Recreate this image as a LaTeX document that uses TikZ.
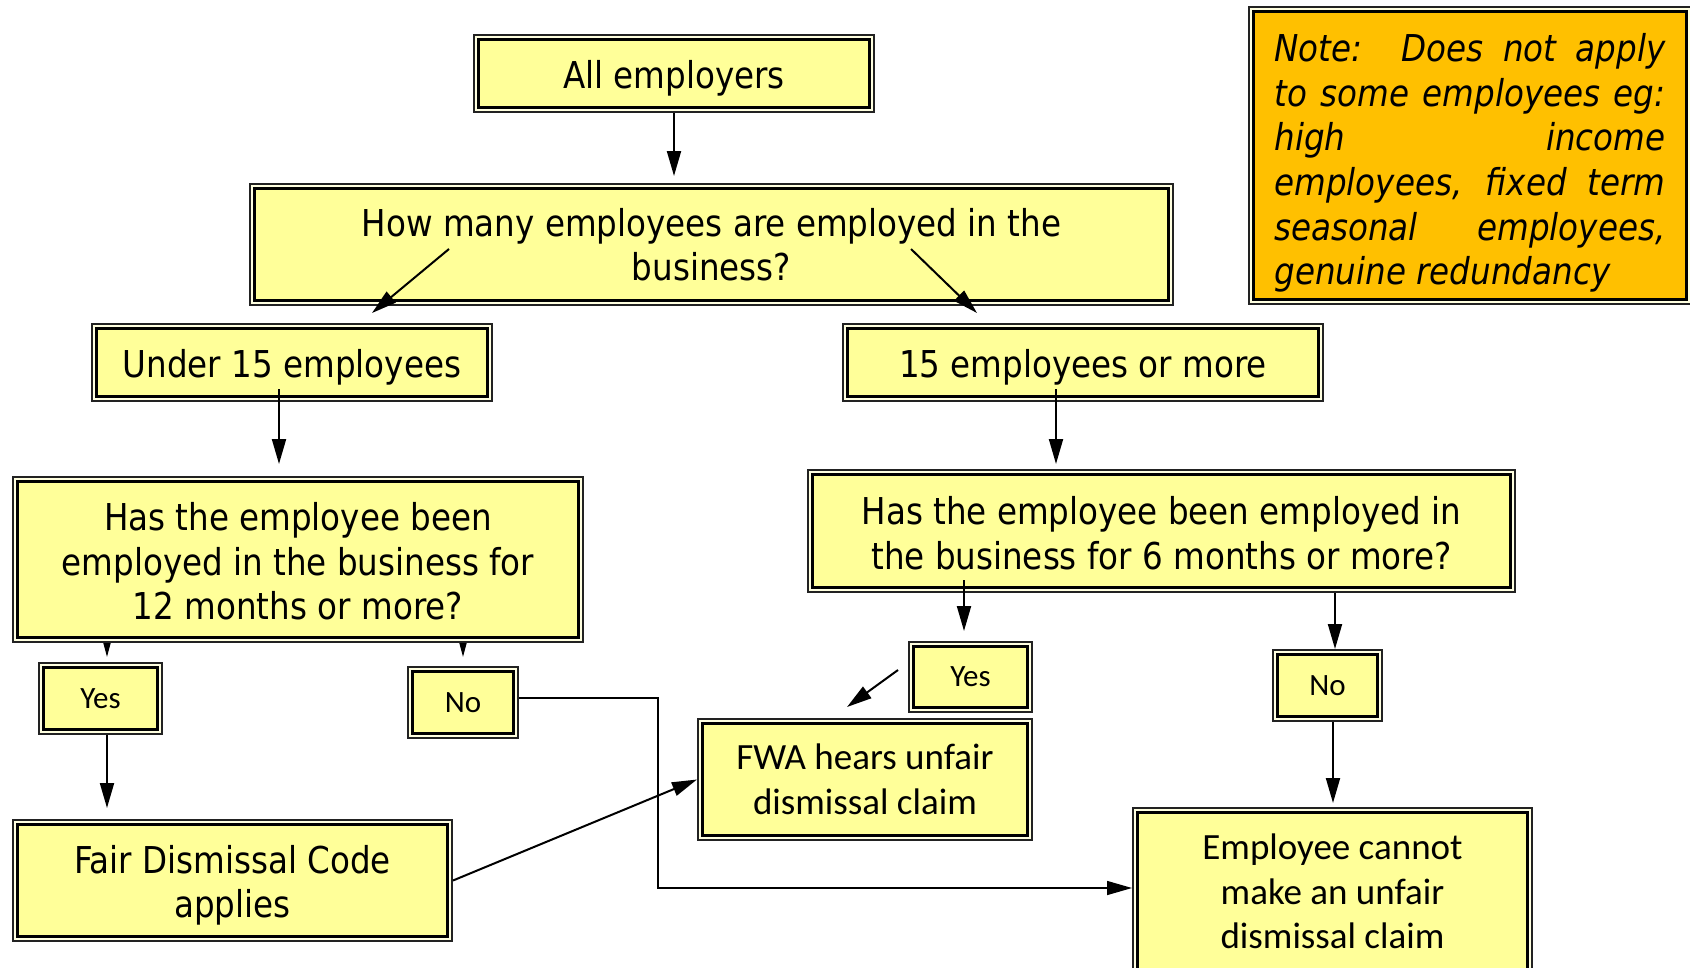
\documentclass[tikz,border=0pt]{standalone}
\usepackage{fontspec}
\newfontfamily\tahfont[FakeStretch=0.88]{DejaVu Sans}
\newfontfamily\calfont{Carlito}
\usetikzlibrary{arrows.meta}
\definecolor{boxyellow}{HTML}{FFFF99}
\definecolor{gapyellow}{HTML}{FFFFE0}
\definecolor{noteorange}{HTML}{FFC000}
\definecolor{edgegray}{HTML}{222222}
\tikzset{
  dbox/.style={draw=edgegray, line width=2pt, fill=boxyellow, inner sep=0pt, align=center,
    path picture={
      \draw[gapyellow, line width=2pt] ([shift={(2pt,-2pt)}]path picture bounding box.north west) rectangle ([shift={(-2pt,2pt)}]path picture bounding box.south east);
      \draw[black, line width=3pt] ([shift={(4.5pt,-4.5pt)}]path picture bounding box.north west) rectangle ([shift={(-4.5pt,4.5pt)}]path picture bounding box.south east);}},
  tbox/.style={dbox, font=\tahfont\fontsize{37}{44.6}\selectfont},
  tone/.style={tbox, execute at begin node={\rule{0pt}{38pt}}},
  cbig/.style={dbox, font=\calfont\fontsize{37}{44.5}\selectfont},
  csmall/.style={dbox, font=\calfont\fontsize{31}{37}\selectfont},
  notebox/.style={dbox, fill=noteorange, align=left, font=\tahfont\itshape\fontsize{37}{44.6}\selectfont},
  arr/.style={line width=2pt, -{Triangle[length=25pt,width=14pt]}},
  thinarr/.style={line width=1.5pt, -{Triangle[length=25pt,width=14pt]}},
  sarr/.style={line width=1.5pt, -{Triangle[length=14pt,width=7pt]}},
}
\begin{document}
\begin{tikzpicture}[x=1pt,y=-1pt]
\clip (0,0) rectangle (1690,967);
\fill[white] (0,0) rectangle (1690,967);

\node[tone, minimum width=400pt, minimum height=77pt] (all) at (674,73.5) {All employers};
\node[tbox, minimum width=923pt, minimum height=121pt] (how) at (711.5,244.5) {How many employees are employed in the\\business?};
\node[tone, minimum width=400pt, minimum height=77pt] (under) at (292,362.5) {Under 15 employees};
\node[tone, minimum width=480pt, minimum height=77pt] (more) at (1083,362.5) {15 employees or more};
\node[tbox, minimum width=570pt, minimum height=165pt] (has12) at (298,559.5) {\rule{0pt}{32pt}Has the employee been\\employed in the business for\\12 months or more?};
\node[tbox, minimum width=707pt, minimum height=122pt] (has6) at (1161.5,531) {\rule{0pt}{32pt}Has the employee been employed in\\the business for 6 months or more?};
\node[csmall, minimum width=123pt, minimum height=71pt] (yesL) at (100.5,698.5) {Yes};
\node[csmall, minimum width=110pt, minimum height=71pt] (noL) at (463,702.5) {No};
\node[tbox, minimum width=439pt, minimum height=121pt] (fair) at (232.5,880.5) {\rule{0pt}{38pt}Fair Dismissal Code\\applies};
\node[csmall, minimum width=123pt, minimum height=70pt] (yesR) at (970.5,677) {Yes};
\node[cbig, minimum width=334pt, minimum height=121pt] (fwa) at (865,779.5) {FWA hears unfair\\dismissal claim};
\node[csmall, minimum width=109pt, minimum height=71pt] (noR) at (1327.5,685.5) {No};
\node[cbig, minimum width=399pt, minimum height=167pt] (emp) at (1332.5,891.5) {Employee cannot\\make an unfair\\dismissal claim};
\node[notebox, minimum width=442pt, minimum height=297pt] (note) at (1470,155.5) {%
\makebox[391pt][s]{\rule{0pt}{43pt}Note:\ \ Does not apply}\\
\makebox[391pt][s]{to some employees eg:}\\
\makebox[391pt][s]{high income}\\
\makebox[391pt][s]{employees, fixed term}\\
\makebox[391pt][s]{seasonal employees,}\\
genuine redundancy};

\coordinate (hL) at (449,249);
\coordinate (uT) at (372,313);
\coordinate (hR) at (911,249);
\coordinate (mT) at (977,313);
\coordinate (uB) at (279,389);
\coordinate (mB) at (1056,389);
\coordinate (sY) at (107,657);
\coordinate (sN) at (463,657);
\coordinate (bend) at (658,888);
\coordinate (h6Y) at (964,580);
\coordinate (yL) at (898,670);
\coordinate (fT) at (847,707);
\coordinate (nR) at (1335,649);
\coordinate (eX) at (1333,803);

\draw[arr, shorten >=7pt] (all.south) -- (all.south |- how.north);
\draw[arr] (hL) -- (uT);
\draw[arr] (hR) -- (mT);
\draw[arr, shorten >=12pt] (uB) -- (uB |- has12.north);
\draw[arr, shorten >=5pt] (mB) -- (mB |- has6.north);
\draw[sarr] (has12.south -| sY) -- (sY);
\draw[sarr] (has12.south -| sN) -- (sN);
\draw[arr, shorten >=11pt] (yesL.south -| sY) -- (sY |- fair.north);
\draw[thinarr] ([yshift=4.5pt]noL.east) -| (bend) -- (bend -| emp.west);
\draw[arr] (fair.east) -- (fwa.west);
\draw[arr, shorten >=10pt] (h6Y) -- (h6Y |- yesR.north);
\draw[arr] (yL) -- (fT);
\draw[arr] (has6.south -| nR) -- (nR |- noR.north);
\draw[arr] (noR.south -| eX) -- (eX);
\end{tikzpicture}
\end{document}
